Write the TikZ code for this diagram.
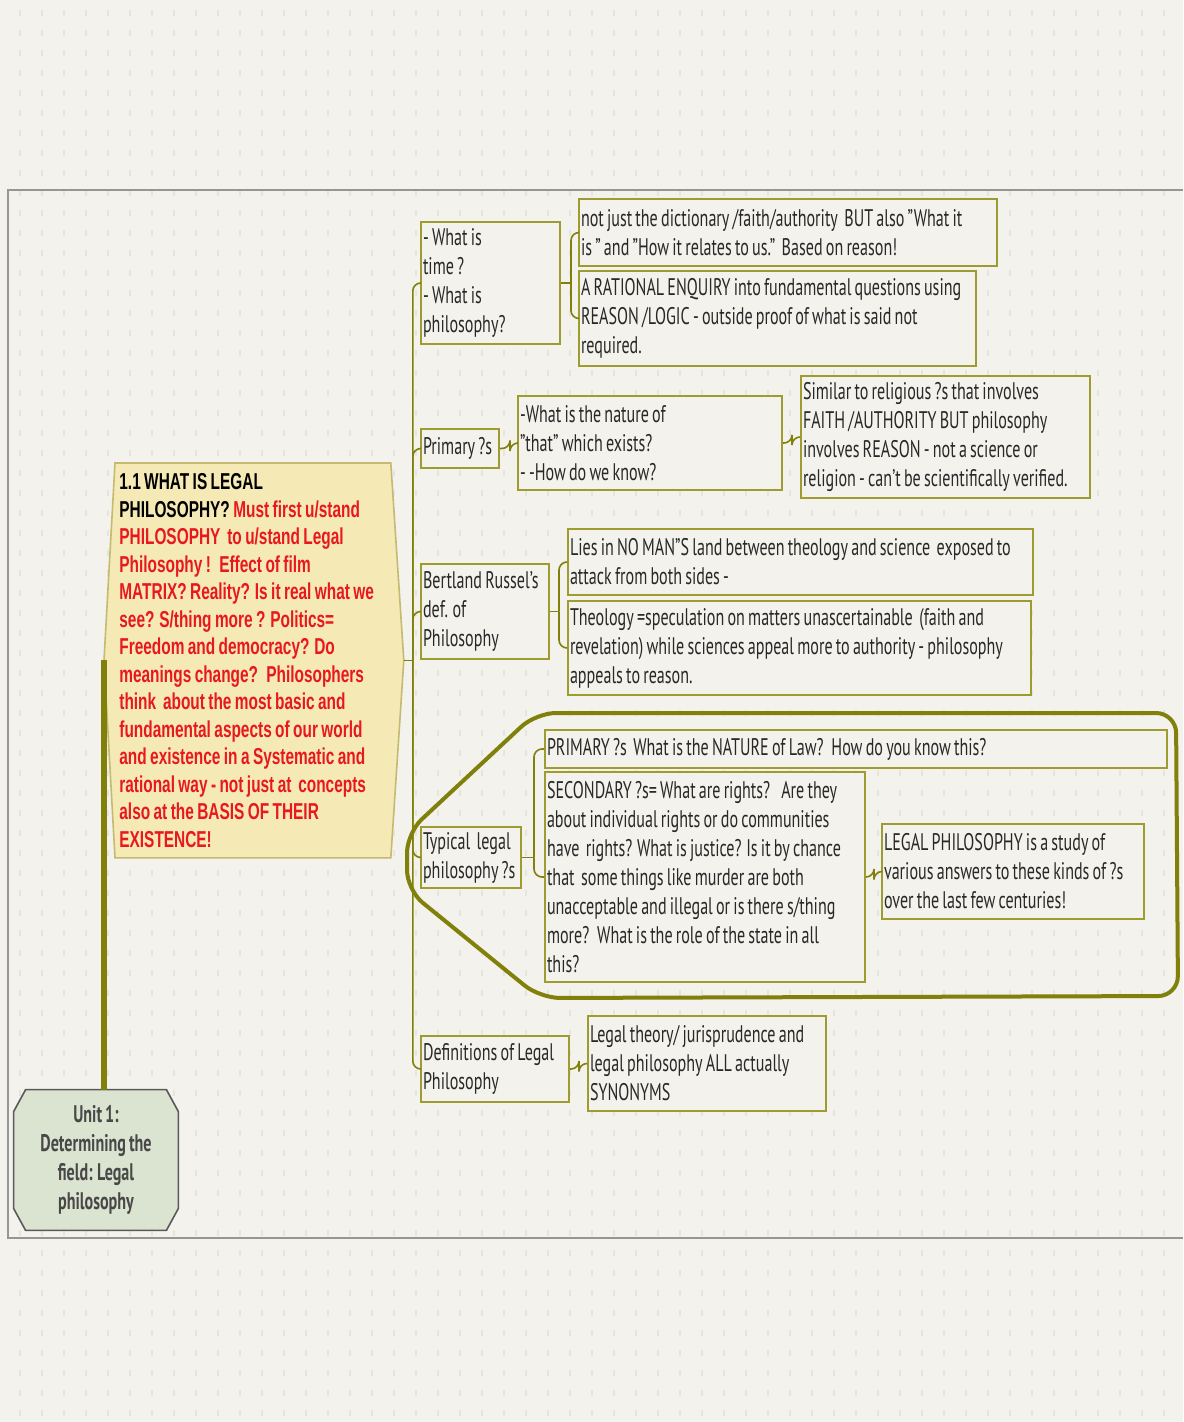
\documentclass[tikz,border=0pt]{standalone}
\usepackage{fontspec}
\setmainfont{PT Sans}[FakeStretch=0.67, WordSpace=0.75]
\newfontfamily\narrowbold{Liberation Sans}[FakeStretch=0.67, WordSpace=0.8]
\usetikzlibrary{positioning, calc, backgrounds}
\definecolor{paper}{RGB}{243,242,237}
\definecolor{dots}{RGB}{229,228,221}
\definecolor{olive}{RGB}{128,128,10}
\definecolor{boxline}{RGB}{158,156,48}
\definecolor{hexfill}{RGB}{245,234,182}
\definecolor{hexline}{RGB}{196,186,112}
\definecolor{rootfill}{RGB}{218,228,208}
\definecolor{ink}{RGB}{40,40,40}
\definecolor{redtext}{RGB}{232,24,30}
\definecolor{frame}{RGB}{150,150,150}
\newcommand\boxfont{\fontsize{12}{14.5}\selectfont\hyphenpenalty=10000\relax}

\tikzset{
  box/.style={draw=boxline, line width=1pt, fill=paper, anchor=north west, align=flush left,
    inner xsep=1pt, inner ysep=2pt, text=ink, font=\boxfont},
  branch/.style={draw=olive, line width=0.8pt, rounded corners=4pt},
  rootline/.style={draw=olive, line width=3pt},
}

\begin{document}
\begin{tikzpicture}[x=0.5pt,y=-0.5pt]
    \useasboundingbox (0,0) rectangle (1183,1422);

    % main node with the long red text
    \node[anchor=north west, inner sep=2pt, text width=133.5pt, minimum width=137.5pt, minimum height=197pt,
      align=flush left, text=redtext, font=\narrowbold\bfseries\fontsize{11.5}{13.75}\selectfont] (main) at (115,463)
      {\color{black}1.1 WHAT IS LEGAL\\
       PHILOSOPHY? \color{redtext}Must first u/stand\\
       PHILOSOPHY~ to u/stand Legal\\
       Philosophy !~ Effect of film\\
       MATRIX? Reality? Is it real what we\\
       see? S/thing more ? Politics=\\
       Freedom and democracy? Do\\
       meanings change?~ Philosophers\\
       think~ about the most basic and\\
       fundamental aspects of our world\\
       and existence in a Systematic and\\
       rational way - not just at~ concepts\\
       also at the BASIS OF THEIR\\
       EXISTENCE!};
    \coordinate (mainL) at ($(main.west)+(-11,0)$);
    \coordinate (mainR) at ($(main.east)+(13,0)$);

    % root node
    \node[minimum width=82pt, minimum height=70pt, align=center, text=ink!85,
      font=\bfseries\fontsize{12}{14.5}\selectfont] (root) at (96,1160)
      {Unit 1:\\ Determining the\\ field: Legal\\ philosophy};

    % first level
    \node[box, text width=67.5pt, minimum height=61pt] (q1) at (420,221) {- What is\\ time ?\\ - What is\\ philosophy?};
    \node[box, text width=37pt, minimum height=19.5pt] (q2) at (420,428) {Primary ?s};
    \node[box, text width=62pt, minimum height=47.5pt] (q3) at (420,563) {Bertland Russel's\\ def. of\\ Philosophy};
    \node[box, text width=48pt, minimum height=30.5pt] (q4) at (420,826) {Typical~ legal\\ philosophy ?s};
    \node[box, text width=72pt, minimum height=33pt] (q5) at (420,1035) {Definitions of Legal\\ Philosophy};

    % second level
    \node[box, text width=207pt, minimum height=33.5pt] (a1) at (578,198)
      {not just the dictionary /faith/authority~ BUT also "What it\\ is " and "How it relates to us."~ Based on reason!};
    \node[box, text width=196.5pt, minimum height=47.5pt] (a2) at (578,270)
      {A RATIONAL ENQUIRY into fundamental questions using\\ REASON /LOGIC - outside proof of what is said not\\ required.};
    \node[box, text width=130pt, minimum height=47pt] (n2) at (517,395)
      {-What is the nature of\\ "that" which exists?\\ - -How do we know?};
    \node[box, text width=142.5pt, minimum height=61pt] (s2) at (800,375)
      {Similar to religious ?s that involves\\ FAITH /AUTHORITY BUT philosophy\\ involves REASON - not a science or\\ religion - can't be scientifically verified.};
    \node[box, text width=230.5pt, minimum height=33pt] (b1) at (567,528)
      {Lies in NO MAN"S land between theology and science~ exposed to\\ attack from both sides -};
    \node[box, text width=229.5pt, minimum height=47pt] (b2) at (567,600)
      {Theology =speculation on matters unascertainable~ (faith and\\ revelation) while sciences appeal more to authority - philosophy\\ appeals to reason.};
    \node[box, text width=309pt, minimum height=19pt] (p4) at (544,729)
      {PRIMARY ?s~ What is the NATURE of Law?~ How do you know this?};
    \node[box, text width=158pt, minimum height=105pt] (s4) at (544,771)
      {SECONDARY ?s= What are rights?~~ Are they\\ about individual rights or do communities\\ have~ rights? What is justice? Is it by chance\\ that~ some things like murder are both\\ unacceptable and illegal or is there s/thing\\ more?~ What is the role of the state in all\\ this?};
    \node[box, text width=129pt, minimum height=47.5pt] (l4) at (881,823)
      {LEGAL PHILOSOPHY is a study of\\ various answers to these kinds of ?s\\ over the last few centuries!};
    \node[box, text width=117pt, minimum height=47.5pt] (d5) at (587,1015)
      {Legal theory/ jurisprudence and\\ legal philosophy ALL actually\\ SYNONYMS};

    % background, frame and shapes behind the nodes
    \begin{scope}[on background layer]
      \fill[paper] (0,0) rectangle (1183,1422);
      \foreach \x in {20,42,...,1180}
        \draw[dots, line width=1pt, dash pattern=on 3pt off 7pt] (\x,10) -- (\x,1420);
      \draw[frame, line width=1pt] (1183,190) -- (8,190) -- (8,1238) -- (1183,1238);
      \draw[hexline, fill=hexfill, line width=0.8pt] (main.north west) -- (main.north east) -- (mainR)
        -- (main.south east) -- (main.south west) -- (mainL) -- cycle;
      \draw[black!65, fill=rootfill, line width=0.8pt] ($(root.north west)+(12,0)$) -- ($(root.north east)+(-12,0)$)
        -- ($(root.north east)+(0,22)$) -- ($(root.south east)+(0,-22)$) -- ($(root.south east)+(-12,0)$)
        -- ($(root.south west)+(12,0)$) -- ($(root.south west)+(0,-22)$) -- ($(root.north west)+(0,22)$) -- cycle;
      % boundary round the typical questions
      \draw[olive, line width=2pt, rounded corners=10pt] (536,713) -- (1176,713) -- (1178,996)
        -- (540,998) -- (407,890) -- (407,833) -- cycle;
    \end{scope}

    % root to main
    \draw[rootline] (mainL) -- (mainL |- root.north);

    % trunk
    \coordinate (trunk) at ($(mainR)+(9,0)$);
    \draw[branch] (mainR) -- (trunk);
    \foreach \q in {q1,q2,q3,q4,q5}
      \draw[branch] (trunk) |- (\q.west);

    % second level connectors
    \draw[branch] (q1.east) -- ++(10,0) coordinate (f1);
    \draw[branch] (f1) |- (a1.west);
    \draw[branch] (f1) |- (a2.west);
    \draw[branch] (q2.east) -- ++(10,0) |- (n2.west);
    \draw[branch] (n2.east) -- ++(9,0) |- (s2.west);
    \draw[branch] (q3.east) -- ++(9,0) coordinate (f3);
    \draw[branch] (f3) |- (b1.west);
    \draw[branch] (f3) |- (b2.west);
    \draw[branch] (q4.east) -- ++(12,0) coordinate (f4);
    \draw[branch] (f4) |- (p4.west);
    \draw[branch] (f4) |- (s4.west);
    \draw[branch] (s4.east) -- ++(8,0) |- (l4.west);
    \draw[branch] (q5.east) -- ++(9,0) |- (d5.west);
\end{tikzpicture}
\end{document}
